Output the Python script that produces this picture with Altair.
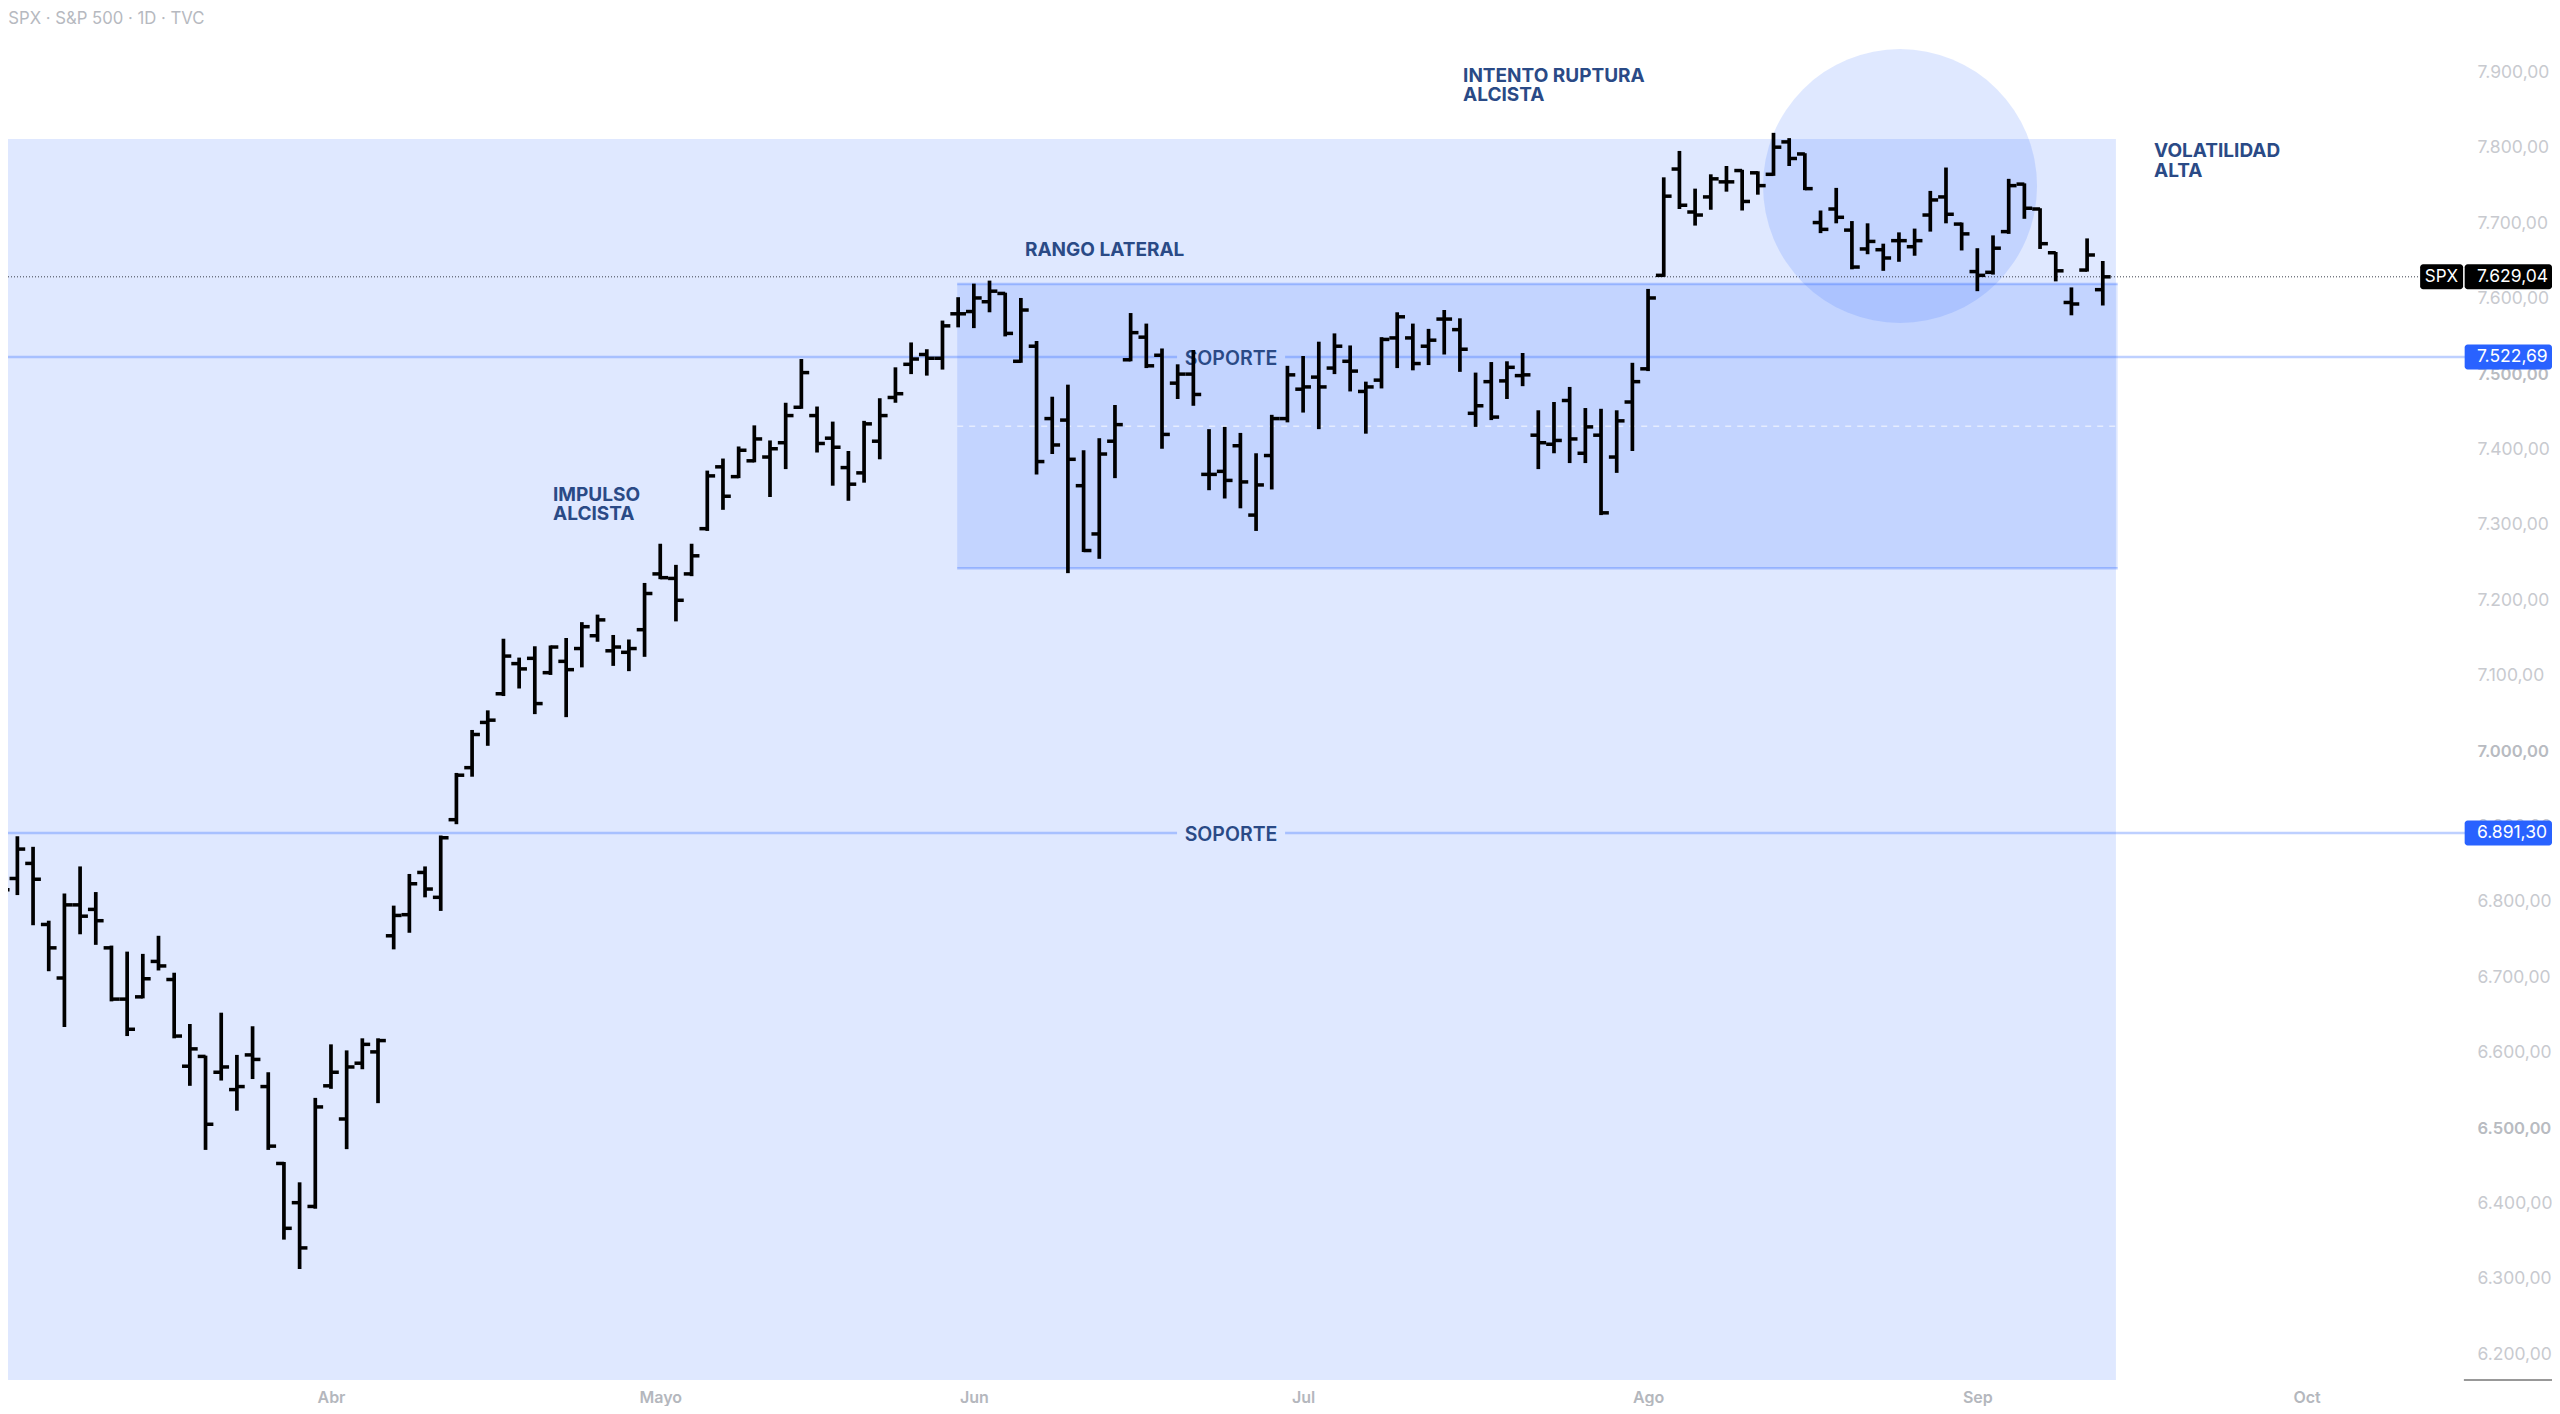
import pandas as pd
import altair as alt

opens = [6780, 6831, 6851, 6770, 6699, 6796, 6790, 6739, 6671, 6674,
         6721, 6697, 6582, 6595, 6574, 6551, 6597, 6555, 6453, 6401,
         6396, 6556, 6512, 6586, 6601, 6755, 6783, 6839, 6806, 6909,
         6978, 7038, 7076, 7116, 7123, 7104, 7119, 7136, 7153, 7133,
         7131, 7161, 7235, 7229, 7235, 7295, 7377, 7364, 7385, 7390,
         7409, 7456, 7445, 7415, 7376, 7369, 7411, 7469, 7513, 7526,
         7521, 7580, 7583, 7596, 7607, 7517, 7537, 7441, 7439, 7352,
         7288, 7411, 7519, 7549, 7525, 7488, 7500, 7367, 7371, 7405,
         7313, 7392, 7441, 7480, 7496, 7508, 7517, 7477, 7492, 7548,
         7548, 7537, 7573, 7559, 7448, 7490, 7491, 7498, 7419, 7407,
         7465, 7395, 7419, 7390, 7463, 7507, 7631, 7772, 7715, 7735,
         7755, 7770, 7767, 7765, 7808, 7792, 7701, 7719, 7691, 7666,
         7665, 7677, 7669, 7711, 7735, 7699, 7636, 7635, 7689, 7752,
         7719, 7661, 7595, 7638, 7612]
highs = [6842, 6887, 6873, 6775, 6811, 6847, 6813, 6742, 6734, 6731,
         6755, 6706, 6638, 6596, 6653, 6597, 6635, 6574, 6455, 6428,
         6540, 6611, 6603, 6619, 6619, 6795, 6837, 6847, 6888, 6971,
         7028, 7054, 7149, 7124, 7139, 7140, 7150, 7171, 7181, 7154,
         7148, 7223, 7275, 7247, 7275, 7372, 7388, 7404, 7432, 7412,
         7462, 7520, 7457, 7437, 7398, 7438, 7468, 7509, 7542, 7533,
         7571, 7602, 7620, 7624, 7608, 7601, 7544, 7470, 7486, 7399,
         7415, 7459, 7581, 7567, 7534, 7513, 7532, 7427, 7430, 7422,
         7395, 7446, 7511, 7524, 7543, 7554, 7538, 7490, 7549, 7582,
         7567, 7560, 7585, 7574, 7502, 7516, 7517, 7528, 7452, 7463,
         7483, 7455, 7454, 7452, 7515, 7613, 7761, 7796, 7746, 7765,
         7776, 7771, 7769, 7820, 7813, 7793, 7717, 7747, 7703, 7700,
         7673, 7688, 7693, 7743, 7774, 7701, 7667, 7684, 7759, 7753,
         7720, 7662, 7615, 7680, 7650]
lows = [6708, 6809, 6769, 6708, 6634, 6757, 6743, 6668, 6622, 6672,
        6709, 6619, 6556, 6471, 6563, 6523, 6565, 6471, 6352, 6313,
        6393, 6552, 6472, 6578, 6533, 6737, 6759, 6806, 6788, 6903,
        6966, 7007, 7073, 7083, 7049, 7101, 7045, 7111, 7145, 7113,
        7106, 7125, 7228, 7172, 7232, 7292, 7320, 7362, 7383, 7337,
        7374, 7454, 7396, 7352, 7332, 7356, 7387, 7462, 7500, 7498,
        7506, 7562, 7561, 7582, 7550, 7515, 7367, 7394, 7236, 7264,
        7255, 7362, 7517, 7508, 7401, 7467, 7458, 7346, 7335, 7322,
        7292, 7347, 7436, 7449, 7427, 7500, 7477, 7421, 7481, 7508,
        7505, 7512, 7526, 7503, 7430, 7439, 7467, 7484, 7374, 7395,
        7382, 7382, 7313, 7369, 7398, 7504, 7629, 7719, 7697, 7718,
        7742, 7717, 7738, 7763, 7776, 7744, 7687, 7700, 7639, 7659,
        7637, 7649, 7657, 7689, 7700, 7664, 7610, 7632, 7686, 7706,
        7666, 7623, 7578, 7636, 7591]
closes = [6816, 6870, 6830, 6739, 6796, 6781, 6775, 6671, 6631, 6698,
          6715, 6622, 6605, 6505, 6581, 6555, 6591, 6476, 6367, 6341,
          6528, 6574, 6581, 6611, 6616, 6782, 6824, 6817, 6885, 6968,
          7022, 7041, 7126, 7109, 7063, 7138, 7108, 7165, 7174, 7138,
          7136, 7209, 7230, 7200, 7259, 7365, 7338, 7399, 7414, 7401,
          7445, 7502, 7408, 7403, 7354, 7434, 7445, 7474, 7520, 7521,
          7564, 7580, 7601, 7610, 7554, 7585, 7384, 7406, 7387, 7266,
          7394, 7433, 7555, 7511, 7420, 7500, 7473, 7367, 7359, 7357,
          7353, 7441, 7499, 7483, 7483, 7537, 7504, 7483, 7546, 7576,
          7514, 7545, 7573, 7533, 7458, 7443, 7509, 7499, 7409, 7412,
          7414, 7430, 7316, 7438, 7490, 7601, 7736, 7724, 7711, 7759,
          7755, 7729, 7750, 7801, 7786, 7746, 7692, 7708, 7642, 7676,
          7654, 7677, 7677, 7731, 7712, 7686, 7631, 7667, 7750, 7720,
          7673, 7637, 7593, 7658, 7629.04]

month_pos = [21, 42, 62, 83, 105, 126, 147]
month_names = ['Abr', 'Mayo', 'Jun', 'Jul', 'Ago', 'Sep', 'Oct']
price_ticks = [6200, 6300, 6400, 6500, 6600, 6700, 6800, 6900, 7000, 7100,
               7200, 7300, 7400, 7500, 7600, 7700, 7800, 7900]

last_price = 7629.04
support_hi = 7522.69
support_lo = 6891.30
range_top = 7619.5
range_bottom = 7242.4
zone_top = 7812

x_min, x_max = 0.402, 162.65
y_min, y_max = 6165.8, 7985.6
xs = alt.Scale(domain=[x_min, x_max], nice=False, zero=False)
ys = alt.Scale(domain=[y_min, y_max], nice=False, zero=False)

BLUE = '#2962FF'
NAVY = '#2A4A86'
FONT = 'Inter'

bars = pd.DataFrame({'i': range(len(opens)), 'o': opens, 'h': highs, 'l': lows, 'c': closes})
bars['left'] = bars['i'] - 0.5
bars['right'] = bars['i'] + 0.5

month_expr = "{}[indexof({}, datum.value)]".format(month_names, month_pos)
price_expr = ("replace(replace(replace(format(datum.value, ',.2f'), ',', '#'), '.', ','), '#', '.')")

x_axis = alt.Axis(
    values=month_pos, labelExpr=month_expr, grid=False, domain=False, ticks=False,
    labelFont=FONT, labelFontSize=16, labelFontWeight=600, labelColor='#b4b7bd',
    labelPadding=9, labelFlush=False, labelOverlap=False)
y_axis = alt.Axis(
    orient='right', offset=-75, values=price_ticks, labelExpr=price_expr,
    grid=False, domain=False, ticks=False, labelPadding=0, labelAlign='left',
    labelFont=FONT, labelOverlap=False, labelFlush=False,
    labelFontSize=alt.expr("datum.value % 500 == 0 ? 16.6 : 17.5"),
    labelFontWeight=alt.expr("datum.value % 500 == 0 ? 600 : 400"),
    labelColor=alt.expr("datum.value % 500 == 0 ? '#b8bbc1' : '#c8cacf'"))

# every layer hands over the same axes so that they merge into one
X = lambda f: alt.X(f, scale=xs, axis=x_axis, title=None)
Y = lambda f: alt.Y(f, scale=ys, axis=y_axis, title=None)

zone = alt.Chart(pd.DataFrame({'x': [x_min], 'x2': [134.84], 'y': [y_min], 'y2': [zone_top]})).mark_rect(
    color=BLUE, opacity=0.15
).encode(x=X('x:Q'), x2='x2:Q', y=Y('y:Q'), y2='y2:Q')

range_box = alt.Chart(pd.DataFrame({'x': [60.94], 'x2': [134.95], 'y': [range_bottom], 'y2': [range_top]})).mark_rect(
    color=BLUE, opacity=0.15
).encode(x=X('x:Q'), x2='x2:Q', y=Y('y:Q'), y2='y2:Q')

circle = alt.Chart(pd.DataFrame({'x': [121.07], 'y': [7749.5]})).mark_point(
    shape='circle', filled=True, color=BLUE, opacity=0.15, size=75076, strokeWidth=0
).encode(x=X('x:Q'), y=Y('y:Q'))

levels = pd.DataFrame({
    'x': [x_min, 81.85, x_min, 81.85, 60.94, 60.94],
    'x2': [74.96, 157.1, 74.96, 157.1, 134.95, 134.95],
    'y': [support_hi, support_hi, support_lo, support_lo, range_top, range_bottom],
})
level_lines = alt.Chart(levels).mark_rule(color=BLUE, opacity=0.3, strokeWidth=2.5).encode(
    x=X('x:Q'), x2='x2:Q', y=Y('y:Q'))

mid_line = alt.Chart(pd.DataFrame({'x': [60.94], 'x2': [134.95], 'y': [(range_top + range_bottom) / 2]})).mark_rule(
    color='white', opacity=0.85, strokeWidth=1, strokeDash=[6, 6]
).encode(x=X('x:Q'), x2='x2:Q', y=Y('y:Q'))

price_line = alt.Chart(pd.DataFrame({'x': [x_min], 'x2': [154.2], 'y': [last_price]})).mark_rule(
    color='#3a3f4b', strokeWidth=1, strokeDash=[1, 2]
).encode(x=X('x:Q'), x2='x2:Q', y=Y('y:Q'))

notes = pd.DataFrame({
    'x': [35.16, 65.26, 93.2, 137.27],
    'y': [7342.3, 7667, 7898, 7797.3],
    'label': ['IMPULSO\nALCISTA', 'RANGO LATERAL', 'INTENTO RUPTURA\nALCISTA', 'VOLATILIDAD\nALTA'],
})
note_text = alt.Chart(notes).mark_text(
    align='left', baseline='middle', dy=1.5, font=FONT, fontSize=19, fontWeight=700,
    color=NAVY, lineBreak='\n', lineHeight=19.5
).encode(x=X('x:Q'), y=Y('y:Q'), text='label:N')

support_text = alt.Chart(pd.DataFrame({'x': [78.4, 78.4], 'y': [support_hi, support_lo], 'label': ['SOPORTE', 'SOPORTE']})).mark_text(
    align='center', baseline='middle', dy=1.5, font=FONT, fontSize=19.5, fontWeight=600, color=NAVY
).encode(x=X('x:Q'), y=Y('y:Q'), text='label:N')

header = alt.Chart(pd.DataFrame({'x': [0.42], 'y': [7972], 'label': ['SPX · S&P 500 · 1D · TVC']})).mark_text(
    align='left', baseline='middle', dy=1, font=FONT, fontSize=16.7, color='#b6b9c0'
).encode(x=X('x:Q'), y=Y('y:Q'), text='label:N')

stems = alt.Chart(bars).mark_rule(color='black', strokeWidth=3.7).encode(
    x=X('i:Q'), y=Y('l:Q'), y2='h:Q')
open_ticks = alt.Chart(bars).mark_rule(color='black', strokeWidth=3.5).encode(
    x=X('left:Q'), x2='i:Q', y=Y('o:Q'))
close_ticks = alt.Chart(bars).mark_rule(color='black', strokeWidth=3.5).encode(
    x=X('i:Q'), x2='right:Q', y=Y('c:Q'))

badges = pd.DataFrame({
    'x': [154.24, 157.08, 157.08, 157.08],
    'x2': [156.98, x_max, x_max, x_max],
    'y': [last_price - 16.6, last_price - 16.6, support_hi - 16.6, support_lo - 16.6],
    'y2': [last_price + 16.6, last_price + 16.6, support_hi + 16.6, support_lo + 16.6],
    'fill': ['black', 'black', BLUE, BLUE],
})
badge_rects = alt.Chart(badges).mark_rect(cornerRadius=3).encode(
    x=X('x:Q'), x2='x2:Q', y=Y('y:Q'), y2='y2:Q',
    color=alt.Color('fill:N', scale=None, legend=None))

badge_labels = pd.DataFrame({
    'x': [157.86, 157.86, 157.86],
    'y': [last_price, support_hi, support_lo],
    'label': ['7.629,04', '7.522,69', '6.891,30'],
})
badge_text = alt.Chart(badge_labels).mark_text(
    align='left', baseline='middle', font=FONT, fontSize=17.5, color='white'
).encode(x=X('x:Q'), y=Y('y:Q'), text='label:N')

spx_text = alt.Chart(pd.DataFrame({'x': [155.6], 'y': [last_price], 'label': ['SPX']})).mark_text(
    align='center', baseline='middle', font=FONT, fontSize=17, color='white'
).encode(x=X('x:Q'), y=Y('y:Q'), text='label:N')

corner = alt.Chart(pd.DataFrame({'x': [157.03], 'x2': [x_max], 'y': [y_min]})).mark_rule(
    color='#333333', strokeWidth=1
).encode(x=X('x:Q'), x2='x2:Q', y=Y('y:Q'))

chart = alt.layer(
    zone, range_box, circle, level_lines, mid_line, price_line, note_text, support_text, header,
    stems, open_ticks, close_ticks, badge_rects, badge_text, spx_text, corner
).properties(
    width=2544,
    height=1372,
    autosize=alt.AutoSizeParams(type='none'),
    padding={'left': 0, 'top': 0, 'right': 0, 'bottom': 26},
    background='white'
).configure_view(stroke=None)

chart.save("out.html", embed_options={"renderer": "svg", "actions": False})
